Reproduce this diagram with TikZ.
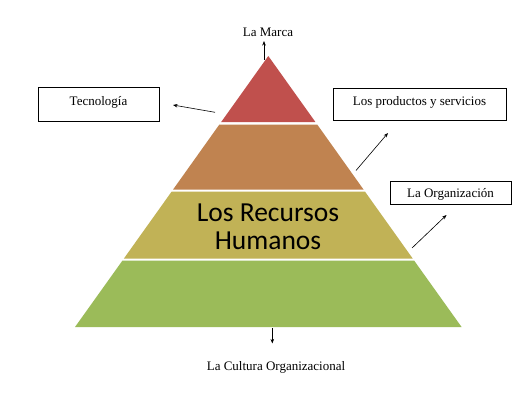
\documentclass[tikz,border=0pt]{standalone}
\usepackage{fontspec}
\setmainfont{Liberation Serif}
\newfontfamily\tnr{Liberation Serif}
\newfontfamily\calibri{Carlito}
\usetikzlibrary{arrows.meta}
\definecolor{lred}{RGB}{192,80,77}
\definecolor{lbrown}{RGB}{192,131,80}
\definecolor{lgold}{RGB}{193,178,86}
\definecolor{lgreen}{RGB}{155,187,89}
\begin{document}
\begin{tikzpicture}[x=1pt,y=-1pt,
  lbl/.style={font=\tnr\fontsize{13}{15}\selectfont, inner sep=0pt},
  boxed/.style={draw=black, line width=0.9pt, inner sep=0pt},
  arr/.style={-{Stealth[length=4.5pt,width=3.5pt]}, line width=0.6pt}]
\useasboundingbox (0,0) rectangle (530,410);
\fill[white] (0,0) rectangle (530,410);
% pyramid layers
\fill[lred] (268.3,56) -- (315.4,122) -- (221.2,122) -- cycle;
\fill[lbrown] (219.4,124.5) -- (317.2,124.5) -- (363.5,189.5) -- (173.1,189.5) -- cycle;
\fill[lgold] (171.7,191.5) -- (364.9,191.5) -- (412.7,258.5) -- (123.9,258.5) -- cycle;
\fill[lgreen] (122.5,260.5) -- (414.1,260.5) -- (461.6,327) -- (75,327) -- cycle;
\node[font=\calibri\fontsize{27.5}{28}\selectfont, align=center, inner sep=0pt] (rh) at (268,227) {Los Recursos\\Humanos};
% boxes
\node[boxed, minimum width=121pt, minimum height=34pt] (tec) at (98.5,104.5) {};
\node[lbl, anchor=base] (tect) at (98.5,105) {Tecnología};
\node[boxed, minimum width=173pt, minimum height=32pt] (prod) at (419.5,104) {};
\node[lbl, anchor=base] (prodt) at (419.5,105) {Los productos y servicios};
\node[boxed, minimum width=121pt, minimum height=23pt] (org) at (450.5,193) {};
\node[lbl, anchor=base] (orgt) at (450.5,197) {La Organización};
\node[lbl, anchor=base] (marca) at (268,36.5) {La Marca};
\node[lbl, anchor=base] (cult) at (276,370.5) {La Cultura Organizacional};
% arrows
\coordinate (a1s) at (264,59.5); \coordinate (a1e) at (264,41);
\coordinate (a2s) at (215,112.3); \coordinate (a2e) at (173,105);
\coordinate (a3s) at (356,170.5); \coordinate (a3e) at (388,133);
\coordinate (a4s) at (412,248); \coordinate (a4e) at (446.5,215);
\coordinate (a5s) at (272.3,328); \coordinate (a5e) at (272.3,343.5);
\draw[arr] (a1s) -- (a1e);
\draw[arr] (a2s) -- (a2e);
\draw[arr] (a3s) -- (a3e);
\draw[arr] (a4s) -- (a4e);
\draw[arr] (a5s) -- (a5e);
\end{tikzpicture}
\end{document}
